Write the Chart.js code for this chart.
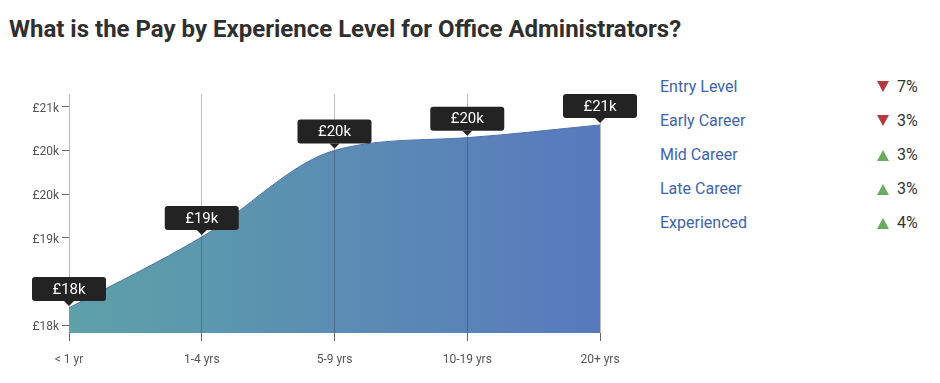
<!DOCTYPE html>
<html><head><meta charset="utf-8">
<script src="https://cdn.jsdelivr.net/npm/chart.js@4.4.1/dist/chart.umd.min.js"></script>
<style>
html,body{margin:0;padding:0;background:#fff;width:940px;height:383px;overflow:hidden;font-family:Roboto,sans-serif;}
#title{position:absolute;left:9px;top:17px;font:bold 24px Roboto;line-height:24px;color:#2f2f2f;white-space:nowrap;}
#wrap{position:absolute;left:0;top:0;width:650px;height:383px;}
#legend{position:absolute;left:660px;top:77px;width:270px;}
.row{height:34px;line-height:24px;position:relative;font:16px Roboto;}
.name{position:absolute;left:0;top:0;color:#3e64ad;}
.tri{position:absolute;left:217px;width:0;height:0;border-left:6px solid transparent;border-right:6px solid transparent;}
.down{top:4px;border-top:11px solid #b23b3b;}
.up{top:5px;border-bottom:11px solid #6aab5f;}
.pct{position:absolute;left:237px;top:0;color:#333;}
</style>
</head><body>
<div id="title">What is the Pay by Experience Level for Office Administrators?</div>
<div id="wrap"><canvas id="c" width="650" height="383"></canvas></div>
<div id="legend"></div>
<script>
const categories = ['< 1 yr', '1-4 yrs', '5-9 yrs', '10-19 yrs', '20+ yrs'];
const payValues = [18200, 19010, 20000, 20146, 20291];
const pointLabels = ['£18k', '£19k', '£20k', '£20k', '£21k'];
const yTickValues = [18000, 18500, 19000, 19500, 20000, 20500];
const yTickLabels = ['£18k', '£19k', '£19k', '£20k', '£20k', '£21k'];
const levels = ['Entry Level', 'Early Career', 'Mid Career', 'Late Career', 'Experienced'];
const changes = [-7, -3, 3, 3, 4];

// legend
const lg = document.getElementById('legend');
levels.forEach((name, i) => {
  const row = document.createElement('div');
  row.className = 'row';
  const n = document.createElement('span'); n.className = 'name'; n.textContent = name;
  const t = document.createElement('span'); t.className = 'tri ' + (changes[i] < 0 ? 'down' : 'up');
  const p = document.createElement('span'); p.className = 'pct'; p.textContent = Math.abs(changes[i]) + '%';
  row.appendChild(n); row.appendChild(t); row.appendChild(p);
  lg.appendChild(row);
});

const boxPlugin = {
  id: 'boxes',
  afterDraw(chart) {
    const meta = chart.getDatasetMeta(0);
    const ctx = chart.ctx;
    ctx.save();
    meta.data.forEach((pt, i) => {
      const x = pt.x, y = pt.y;
      const w = 74, h = 24;
      const bx = x - w / 2, by = y - 31;
      ctx.fillStyle = '#232323';
      ctx.beginPath();
      ctx.roundRect(bx, by, w, h, 3);
      ctx.fill();
      ctx.beginPath();
      ctx.moveTo(x - 5, by + h);
      ctx.lineTo(x + 5, by + h);
      ctx.lineTo(x, by + h + 5);
      ctx.closePath();
      ctx.fill();
      ctx.fillStyle = '#fff';
      ctx.font = '15px Roboto';
      ctx.textAlign = 'center';
      ctx.textBaseline = 'middle';
      ctx.fillText(pointLabels[i], x, by + h / 2 + 1);
    });
    ctx.restore();
  }
};

new Chart(document.getElementById('c'), {
  type: 'line',
  data: {
    labels: categories,
    datasets: [{
      data: payValues,
      fill: 'start',
      borderColor: '#4f72ad',
      borderWidth: 1,
      pointRadius: 0,
      cubicInterpolationMode: 'monotone',
      backgroundColor: (c) => {
        const ca = c.chart.chartArea;
        if (!ca) return 'rgb(90,140,180)';
        const g = c.chart.ctx.createLinearGradient(ca.left, 0, ca.right, 0);
        g.addColorStop(0, 'rgb(94,161,168)');
        g.addColorStop(1, 'rgb(88,121,190)');
        return g;
      }
    }]
  },
  options: {
    responsive: false,
    animation: false,
    devicePixelRatio: 1,
    layout: { padding: { top: 94, right: 50, left: 0, bottom: 0 } },
    plugins: { legend: { display: false }, tooltip: { enabled: false } },
    scales: {
      x: {
        offset: false,
        grid: {
          z: 1,
          color: (c) => c.index === 0 ? 'rgba(0,0,0,0)' : 'rgba(40,40,40,0.3)',
          drawTicks: true, tickLength: 8, tickColor: '#666'
        },
        border: { display: false },
        ticks: { color: '#555', font: { family: 'Roboto', size: 12 }, padding: 12, maxRotation: 0, autoSkip: false },
        afterFit(s) { s.height = 50; }
      },
      y: {
        min: 17913, max: 20645,
        afterBuildTicks(s) { s.ticks = yTickValues.map(v => ({ value: v })); },
        ticks: { callback: (v, i) => yTickLabels[i], color: '#555', font: { family: 'Roboto', size: 12 }, padding: 3, labelOffset: 2 },
        grid: { drawOnChartArea: false, drawTicks: true, tickLength: 7, tickColor: '#666' },
        border: { display: true, color: '#bbb', dash: [2, 2] },
        afterFit(s) { s.width = 69; }
      }
    }
  },
  plugins: [boxPlugin]
});
</script>
</body></html>
